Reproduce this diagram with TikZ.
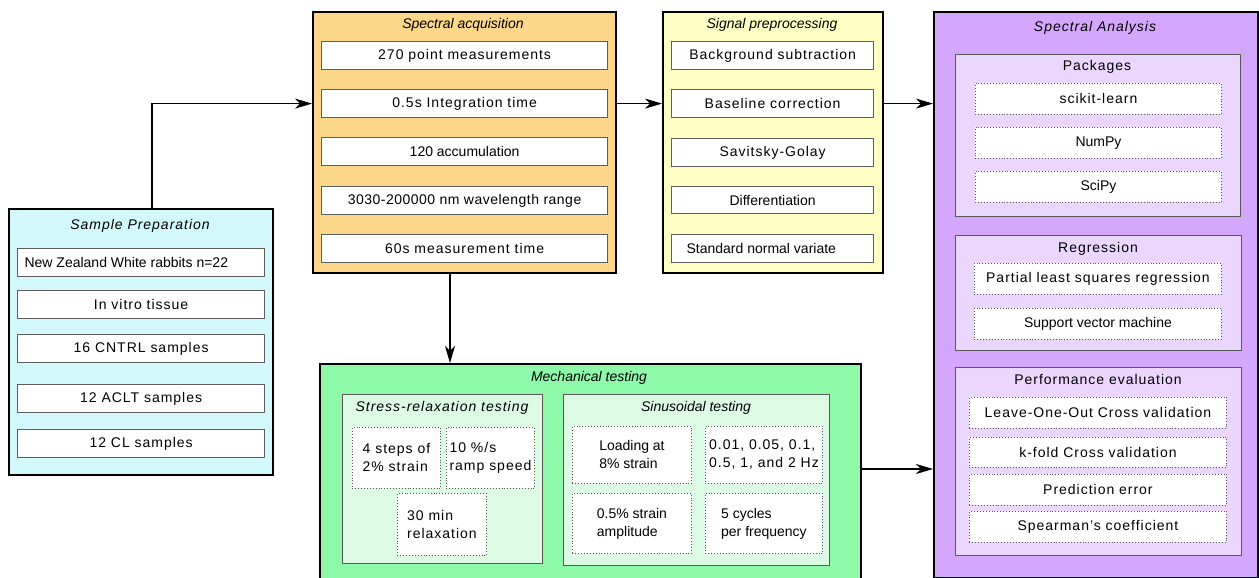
\documentclass[tikz,border=0pt]{standalone}
\usepackage{fontspec}
\setmainfont{Liberation Sans}
\usetikzlibrary{arrows.meta}
\definecolor{prepc}{HTML}{D2F8FC}
\definecolor{acqc}{HTML}{FCD78A}
\definecolor{sigc}{HTML}{FFFFC4}
\definecolor{anac}{HTML}{D4A6FC}
\definecolor{anasub}{HTML}{EBD7FD}
\definecolor{mechc}{HTML}{8EF9A8}
\definecolor{mechsub}{HTML}{DCFAE4}
\definecolor{wborder}{HTML}{5E5E5E}
\newcommand\ls{\addfontfeature{LetterSpace=7}}
\newcommand\lsb{\addfontfeature{LetterSpace=3.5}}
\newcommand\fs{\fontsize{14}{18}\selectfont}
\newcommand\bx[7]{\node[#6, minimum width={(#4-#2)*1pt}, minimum height={(#5-#3)*1pt}] (#1) at (#2,#3) {#7};}
\begin{document}
\begin{tikzpicture}[x=1pt,y=-1pt,
  outer/.style={draw=black, line width=2.2pt, anchor=north west, inner sep=0pt},
  wbox/.style={draw=wborder, line width=1.2pt, fill=white, anchor=north west, inner sep=0pt, font=\fs},
  dbox/.style={draw=black!65, dotted, line width=0.9pt, fill=white, anchor=north west, inner sep=0pt, font=\fs, align=left},
  sub/.style={draw=black!65, line width=1.3pt, anchor=north west, inner sep=0pt},
  ttl/.style={font=\fs\itshape, inner sep=0pt},
  rttl/.style={font=\fs, inner sep=0pt},
  arr/.style={-{Stealth[length=17pt,width=10pt,inset=5pt]}, line width=1.1pt, black}]
\useasboundingbox (0,0) rectangle (1259,578);
\clip (0,0) rectangle (1259,578);
\fill[white] (0,0) rectangle (1259,578);

% Sample preparation
\bx{prep}{8}{208}{272}{474}{outer,fill=prepc}{}
\node[ttl] (prepT) at (140,226) {\ls Sample Preparation};
\bx{p1}{17}{248}{264}{276}{wbox}{\makebox[233pt][l]{New Zealand White rabbits n=22}}
\bx{p2}{17}{290}{264}{318}{wbox}{\ls In vitro tissue}
\bx{p3}{17}{334}{264}{362}{wbox}{\ls 16 CNTRL samples}
\bx{p4}{17}{384}{264}{412}{wbox}{\ls 12 ACLT samples}
\bx{p5}{17}{429}{264}{457}{wbox}{\ls 12 CL samples}

% Spectral acquisition
\bx{acq}{312}{11}{615}{272}{outer,fill=acqc}{}
\node[ttl] (acqT) at (463,25) {Spectral acquisition};
\bx{a1}{321}{41}{607}{69}{wbox}{\ls 270 point measurements}
\bx{a2}{321}{89}{607}{117}{wbox}{\ls 0.5s Integration time}
\bx{a3}{321}{137}{607}{165}{wbox}{120 accumulation}
\bx{a4}{321}{186}{607}{214}{wbox}{\lsb 3030-200000 nm wavelength range}
\bx{a5}{321}{234}{607}{262}{wbox}{\ls 60s measurement time}

% Signal preprocessing
\bx{sig}{662}{11}{882}{272}{outer,fill=sigc}{}
\node[ttl] (sigT) at (772,25) {Signal preprocessing};
\bx{s1}{671}{41}{873}{69}{wbox}{\ls Background subtraction}
\bx{s2}{671}{89}{873}{117}{wbox}{\ls Baseline correction}
\bx{s3}{671}{138}{873}{166}{wbox}{\ls Savitsky-Golay}
\bx{s4}{671}{186}{873}{213}{wbox}{Differentiation}
\bx{s5}{671}{234}{873}{262}{wbox}{\makebox[172pt][l]{Standard normal variate}}

% Spectral analysis
\bx{ana}{933}{11}{1257}{577}{outer,fill=anac}{}
\node[ttl] (anaT) at (1095,28) {\ls Spectral Analysis};
\bx{pkg}{955}{54}{1240}{216}{sub,fill=anasub}{}
\node[rttl] (pkgT) at (1097,67) {\ls Packages};
\bx{k1}{975}{83}{1221}{114}{dbox}{\ls scikit-learn}
\bx{k2}{975}{127}{1221}{158}{dbox}{NumPy}
\bx{k3}{975}{171}{1221}{202}{dbox}{SciPy}
\bx{reg}{955}{235}{1241}{350}{sub,fill=anasub}{}
\node[rttl] (regT) at (1098,249) {\ls Regression};
\bx{r1}{974}{263}{1221}{294}{dbox}{\ls Partial least squares regression}
\bx{r2}{974}{308}{1221}{339}{dbox}{Support vector machine}
\bx{perf}{955}{367}{1241}{555}{sub,fill=anasub}{}
\node[rttl] (perfT) at (1098,379) {\ls Performance evaluation};
\bx{e1}{969}{397}{1226}{428}{dbox}{\ls Leave-One-Out Cross validation}
\bx{e2}{969}{437}{1226}{467}{dbox}{\ls k-fold Cross validation}
\bx{e3}{969}{474}{1226}{505}{dbox}{\ls Prediction error}
\bx{e4}{969}{511}{1226}{542}{dbox}{\ls Spearman's coefficient}

% Mechanical testing
\bx{mech}{319}{363}{860}{595}{outer,fill=mechc}{}
\node[ttl] (mechT) at (589,378) {Mechanical testing};
\bx{sr}{342}{394}{542}{563}{sub,fill=mechsub}{}
\node[ttl] (srT) at (442,408) {\ls Stress-relaxation testing};
\bx{m1}{352}{427}{440}{488}{dbox}{\ls 4 steps of\\\ls 2\% strain}
\bx{m2}{446}{427}{534}{488}{dbox}{\ls 10 \%/s\\\ls ramp speed}
\bx{m3}{397}{493}{486}{555}{dbox}{\ls 30 min\\\ls relaxation}
\bx{sin}{563}{394}{829}{565}{sub,fill=mechsub}{}
\node[ttl] (sinT) at (696,408) {Sinusoidal testing};
\bx{n1}{572}{426}{691}{483}{dbox}{Loading at\\8\% strain}
\bx{n2}{705}{426}{822}{483}{dbox}{\ls 0.01, 0.05, 0.1,\\\ls 0.5, 1, and 2 Hz}
\bx{n3}{572}{493}{691}{553}{dbox}{0.5\% strain\\amplitude}
\bx{n4}{705}{493}{822}{553}{dbox}{5 cycles\\per frequency}

% connectors
\coordinate (c1) at (152,208);
\coordinate (c2) at (450,0);
\coordinate (c3) at (0,469);
\draw[arr] (c1) |- (acq.west |- a2.center);
\draw[arr] (acq.east |- a2.center) -- (sig.west |- a2.center);
\draw[arr] (sig.east |- s2.center) -- (ana.west |- s2.center);
\draw[arr] (acq.south -| c2) -- (mech.north -| c2);
\draw[arr] (mech.east |- c3) -- (ana.west |- c3);
\end{tikzpicture}
\end{document}
